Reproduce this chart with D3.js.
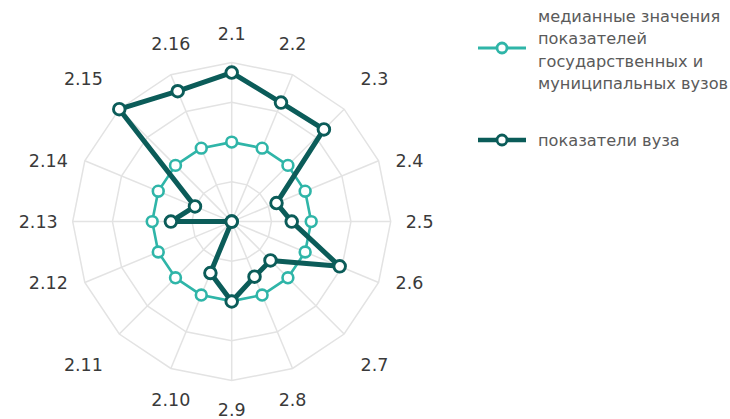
<!DOCTYPE html>
<html><head><meta charset="utf-8">
<script src="https://cdn.jsdelivr.net/npm/d3@7"></script>
<style>
html,body{margin:0;padding:0;background:#fff;}
svg{display:block;}
</style>
</head><body>
<svg id="chart" width="730" height="419"></svg>
<script>
const categories = ["2.1","2.2","2.3","2.4","2.5","2.6","2.7","2.8","2.9","2.10","2.11","2.12","2.13","2.14","2.15","2.16"];
const medianValues = [2,2,2,2,2,2,2,2,2,2,2,2,2,2,2,2];
const universityValues = [3.75,3.24,3.28,1.22,1.51,2.94,1.38,1.50,2.01,1.40,0,0,1.53,1.00,4.00,3.55];
const gridLevels = [1,2,3,4];
const legendLines = [["медианные значения","показателей","государственных и","муниципальных вузов"],["показатели вуза"]];

const svg = d3.select("#chart");
const cx = 231.7, cy = 221.6, R = 159;
const n = categories.length;
const colorMedian = "#2fb5a8", colorUni = "#0b5c59";

const r = d3.scaleLinear().domain([0, 4]).range([0, R]);
const angle = d3.scalePoint().domain(categories).range([0, 2*Math.PI*(n-1)/n]);

const g = svg.append("g").attr("transform", `translate(${cx},${cy})`);

// grid
gridLevels.forEach(lv => {
  const line = d3.lineRadial().angle(d => angle(d)).radius(() => r(lv)).curve(d3.curveLinearClosed);
  g.append("path").attr("d", line(categories)).attr("fill","none").attr("stroke","#e3e3e3").attr("stroke-width",1.5);
});
categories.forEach(c => {
  const a = angle(c);
  g.append("line").attr("x1",0).attr("y1",0)
    .attr("x2", r(4)*Math.sin(a)).attr("y2", -r(4)*Math.cos(a))
    .attr("stroke","#e3e3e3").attr("stroke-width",1.5);
});

// axis labels
const fs = 17.5;
categories.forEach(c => {
  const t = angle(c);
  const phi = t - (3.6*Math.PI/180)*Math.sin(4*t);
  const rho = 188 + 14*Math.max(0, -Math.cos(4*t));
  let x = rho*Math.sin(phi), y = -rho*Math.cos(phi);
  const s = Math.sin(t);
  let anchor = "middle";
  if (s > 0.6) { anchor = "start"; x -= 14; }
  else if (s < -0.6) { anchor = "end"; x += 14; }
  g.append("text").attr("x", x).attr("y", y + 0.365*fs)
    .attr("text-anchor", anchor)
    .attr("font-family","DejaVu Sans, Verdana, sans-serif").attr("font-size", fs)
    .attr("fill","#3a3a3a").text(c);
});

function drawSeries(values, color, lw) {
  const data = categories.map((c,i) => ({c, v: values[i]}));
  const line = d3.lineRadial().angle(d => angle(d.c)).radius(d => r(d.v)).curve(d3.curveLinearClosed);
  g.append("path").attr("d", line(data)).attr("fill","none").attr("stroke",color)
    .attr("stroke-width",lw).attr("stroke-linejoin","round");
  return data;
}
const d1 = drawSeries(medianValues, colorMedian, 2.6);
g.selectAll("circle.m").data(d1).enter().append("circle").attr("class","m")
  .attr("cx", d => r(d.v)*Math.sin(angle(d.c))).attr("cy", d => -r(d.v)*Math.cos(angle(d.c)))
  .attr("r", 5.4).attr("fill","#fff").attr("stroke",colorMedian).attr("stroke-width",2.6);
const d2 = drawSeries(universityValues, colorUni, 5);
g.selectAll("circle.u").data(d2).enter().append("circle").attr("class","u")
  .attr("cx", d => r(d.v)*Math.sin(angle(d.c))).attr("cy", d => -r(d.v)*Math.cos(angle(d.c)))
  .attr("r", 5.8).attr("fill","#fff").attr("stroke",colorUni).attr("stroke-width",2.9);

// legend
const lg = svg.append("g");
const legendItems = [
  {color: colorMedian, lw: 3.2, y: 48, lines: legendLines[0], textTop: 21.5},
  {color: colorUni, lw: 4.5, y: 140, lines: legendLines[1], textTop: 145.5}
];
legendItems.forEach(it => {
  lg.append("line").attr("x1",478).attr("x2",526).attr("y1",it.y).attr("y2",it.y)
    .attr("stroke",it.color).attr("stroke-width",it.lw);
  lg.append("circle").attr("cx",502).attr("cy",it.y).attr("r",5).attr("fill","#fff")
    .attr("stroke",it.color).attr("stroke-width",2.8);
  const tx = lg.append("text").attr("x",538).attr("y",it.textTop)
    .attr("font-family","DejaVu Sans, Verdana, sans-serif").attr("font-size",16.2).attr("fill","#5a5a5a");
  it.lines.forEach((l,i) => tx.append("tspan").attr("x",538).attr("dy", i===0?0:22.6).text(l));
});
</script>
</body></html>
